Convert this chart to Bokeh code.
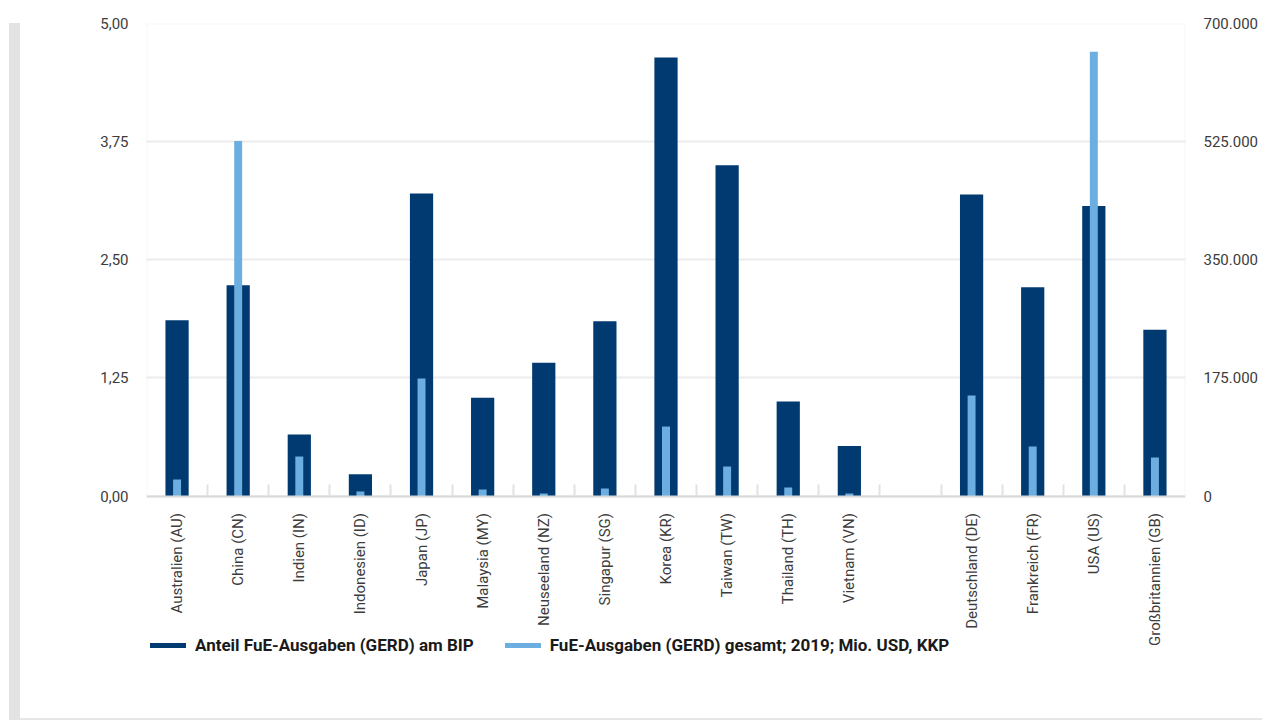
from bokeh.plotting import figure
from bokeh.models import (Range1d, LinearAxis, FixedTicker, Legend, LegendItem,
                          ColumnDataSource, Div, Grid, BoxAnnotation)
from bokeh.layouts import row, column
from bokeh.embed import file_html
from bokeh.resources import INLINE
import math

# ---------------- data ----------------
categories = ["Australien (AU)", "China (CN)", "Indien (IN)", "Indonesien (ID)",
              "Japan (JP)", "Malaysia (MY)", "Neuseeland (NZ)", "Singapur (SG)",
              "Korea (KR)", "Taiwan (TW)", "Thailand (TH)", "Vietnam (VN)", "",
              "Deutschland (DE)", "Frankreich (FR)", "USA (US)", "Großbritannien (GB)"]
share_gdp = [1.86, 2.23, 0.65, 0.23, 3.20, 1.04, 1.41, 1.85, 4.64, 3.50, 1.00, 0.53,
             None, 3.19, 2.21, 3.07, 1.76]
gerd_total = [24400, 526000, 58500, 6700, 174000, 9600, 3700, 11100, 102900, 43700,
              12600, 3700, None, 148800, 73300, 658000, 57000]

left_ticks = [0, 1.25, 2.5, 3.75, 5]
left_tick_labels = ["0,00", "1,25", "2,50", "3,75", "5,00"]
right_ticks = [0, 175000, 350000, 525000, 700000]
right_tick_labels = ["0", "175.000", "350.000", "525.000", "700.000"]

series_names = ["Anteil FuE-Ausgaben (GERD) am BIP",
                "FuE-Ausgaben (GERD) gesamt; 2019; Mio. USD, KKP"]
colors = ["#003A70", "#6DAEE0"]

FONT = "Roboto"
TXT = "#3c3c3c"

# ---------------- layout constants (screen px) ----------------
FIG_TOP = 8
FRAME_TOP = 23
ZERO_PX = 495.5
FRAME_BOTTOM = 680
FIG_H = 710
LEFT_MAX = left_ticks[-1]
RIGHT_MAX = right_ticks[-1]
y_min = -LEFT_MAX * (FRAME_BOTTOM - ZERO_PX) / (ZERO_PX - FRAME_TOP)

# ---------------- build ----------------
n = len(categories)
centers = [i + 0.5 for i in range(n)]
idx = [i for i in range(n) if categories[i] != ""]
src = ColumnDataSource(dict(
    x=[centers[i] for i in idx],
    share=[share_gdp[i] for i in idx],
    gerd=[gerd_total[i] for i in idx],
))

p = figure(width=1242, height=FIG_H, output_backend="svg", toolbar_location=None,
           x_range=Range1d(0, n), y_range=Range1d(y_min, LEFT_MAX),
           min_border_top=FRAME_TOP - FIG_TOP, min_border_left=126,
           min_border_right=77, min_border_bottom=FIG_TOP + FIG_H - FRAME_BOTTOM,
           x_axis_type=None, y_axis_type=None)
p.extra_y_ranges = {"gerd": Range1d(y_min * RIGHT_MAX / LEFT_MAX, RIGHT_MAX)}
p.outline_line_color = None
p.background_fill_color = "white"
p.border_fill_color = "white"
p.margin = (FIG_TOP, 0, 0, 0)

# grid
g = Grid(dimension=1, ticker=FixedTicker(ticks=left_ticks),
         grid_line_color="#ececec", grid_line_width=2)
p.add_layout(g)

# plot-area outline (around the value area only)
p.add_layout(BoxAnnotation(left=0, right=n, bottom=0, top=LEFT_MAX,
                           fill_alpha=0, line_color="#e4e4e4", line_width=2,
                           level="underlay"))

r1 = p.vbar(x="x", top="share", width=0.38, bottom=0, source=src,
            fill_color=colors[0], line_color=None)
r2 = p.vbar(x="x", top="gerd", width=0.13, bottom=0, source=src,
            fill_color=colors[1], line_color=None, y_range_name="gerd")

# left axis
la = LinearAxis(ticker=FixedTicker(ticks=left_ticks),
                major_label_overrides=dict(zip(left_ticks, left_tick_labels)))
la.axis_line_color = None
la.major_tick_line_color = None
la.minor_tick_line_color = None
la.major_label_standoff = 12
la.major_label_text_font = FONT
la.major_label_text_font_size = "15px"
la.major_label_text_color = TXT
p.add_layout(la, "left")

# right axis
ra = LinearAxis(y_range_name="gerd", ticker=FixedTicker(ticks=right_ticks),
                major_label_overrides=dict(zip(right_ticks, right_tick_labels)))
ra.axis_line_color = None
ra.major_tick_line_color = None
ra.minor_tick_line_color = None
ra.major_label_standoff = 12
ra.major_label_text_font = FONT
ra.major_label_text_font_size = "15px"
ra.major_label_text_color = TXT
p.add_layout(ra, "right")

# x axis at value 0: labels at centres, separators at boundaries (minor ticks)
xa = LinearAxis(ticker=FixedTicker(ticks=centers, minor_ticks=list(range(1, n))),
                major_label_overrides=dict(zip(centers, categories)),
                fixed_location=0)
xa.axis_line_color = "#d9d9d9"
xa.axis_line_width = 2
xa.major_tick_line_color = None
xa.minor_tick_in = 12
xa.minor_tick_out = 0
xa.minor_tick_line_color = "#e2e2e2"
xa.minor_tick_line_width = 2
xa.major_label_orientation = math.pi / 2
xa.major_label_standoff = 11
xa.major_label_text_font = FONT
xa.major_label_text_font_size = "15px"
xa.major_label_text_color = TXT
p.add_layout(xa, "below")

legend = Legend(items=[LegendItem(label=series_names[0], renderers=[r1]),
                       LegendItem(label=series_names[1], renderers=[r2])],
                orientation="horizontal", location=(-1, FRAME_BOTTOM - 655))
legend.padding = 0
legend.margin = 0
legend.border_line_color = None
legend.background_fill_alpha = 0
legend.glyph_width = 45
legend.glyph_height = 6
legend.label_standoff = 5
legend.spacing = 26
legend.label_text_font = FONT
legend.label_text_font_size = "17px"
legend.label_text_font_style = "bold"
legend.label_text_color = "#1a1a1a"
p.add_layout(legend, "center")

bar = Div(text="", width=11, height=697, margin=(FRAME_TOP, 0, 0, 9),
          styles={"background-color": "#e3e3e3"})
line = Div(text="", width=1242, height=2, margin=(0, 0, 0, 0),
           styles={"background-color": "#e6e6e6"})
layout = row(bar, column(p, line, spacing=0), spacing=0)

open("out.html", "w").write(file_html(layout, INLINE))
